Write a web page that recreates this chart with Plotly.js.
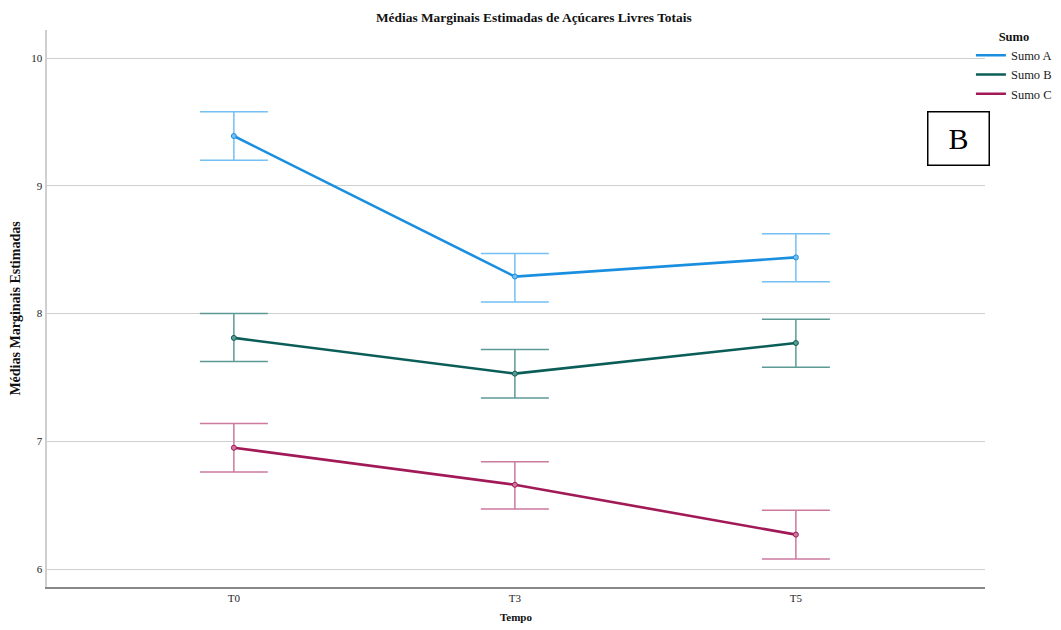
<!DOCTYPE html>
<html>
<head>
<meta charset="utf-8">
<script src="https://cdn.plot.ly/plotly-3.0.1.min.js"></script>
<style>html,body{margin:0;padding:0;background:#fff;}#chart{width:1061px;height:630px;}</style>
</head>
<body>
<div id="chart"></div>
<script>
const categories = ["T0", "T3", "T5"];
const seriesNames = ["Sumo A", "Sumo B", "Sumo C"];
const sumoA = [9.39, 8.29, 8.44];
const sumoAUpper = [9.58, 8.47, 8.625];
const sumoALower = [9.20, 8.09, 8.25];
const sumoB = [7.81, 7.53, 7.77];
const sumoBUpper = [8.00, 7.72, 7.955];
const sumoBLower = [7.625, 7.34, 7.58];
const sumoC = [6.95, 6.66, 6.27];
const sumoCUpper = [7.14, 6.84, 6.46];
const sumoCLower = [6.76, 6.47, 6.08];

const lineColors = ["#1a8fe0", "#0b5e58", "#a11a57"];
const errColors = ["#74c0f2", "#5e9a95", "#cc7a9e"];
const series = [
  [sumoA, sumoAUpper, sumoALower],
  [sumoB, sumoBUpper, sumoBLower],
  [sumoC, sumoCUpper, sumoCLower]
];
const xIdx = categories.map((c, i) => i);
const traces = [];
series.forEach((s, k) => {
  const [m, up, lo] = s;
  traces.push({
    x: xIdx, y: m, type: 'scatter', mode: 'lines', name: seriesNames[k],
    line: {color: lineColors[k], width: 2.6},
    error_y: {type: 'data', symmetric: false,
      array: up.map((u, i) => u - m[i]),
      arrayminus: lo.map((l, i) => m[i] - l),
      color: errColors[k], thickness: 1.5, width: 34},
    hoverinfo: 'skip'
  });
  traces.push({
    x: xIdx, y: m, type: 'scatter', mode: 'markers', showlegend: false,
    marker: {symbol: 'circle', size: 5, color: errColors[k], line: {color: lineColors[k], width: 1}},
    hoverinfo: 'skip'
  });
});

const serif = "'Liberation Serif', 'DejaVu Serif', serif";
const layout = {
  width: 1061, height: 630,
  margin: {l: 47, r: 76, t: 30, b: 43, autoexpand: false},
  paper_bgcolor: '#fff', plot_bgcolor: '#fff',
  font: {family: serif, size: 12, color: '#222'},
  title: {text: '<b>Médias Marginais Estimadas de Açúcares Livres Totais</b>',
    font: {family: serif, size: 13.4, color: '#111'}, xref: 'paper', x: 0.519, xanchor: 'center', y: 0.972, yanchor: 'middle'},
  xaxis: {
    range: [-0.665, 2.673], tickvals: xIdx, ticktext: categories,
    showgrid: false, zeroline: false, showline: true, linecolor: '#888', linewidth: 1.5,
    ticks: '', tickfont: {family: serif, size: 11, color: '#222'},
    title: {text: '<b>Tempo</b>', font: {family: serif, size: 11, color: '#111'}, standoff: 10}
  },
  yaxis: {
    range: [5.86, 10.22], tickvals: [6, 7, 8, 9, 10],
    showgrid: true, gridcolor: '#cfcfcf', gridwidth: 1, zeroline: false,
    showline: true, linecolor: '#cfcfcf', linewidth: 2.5,
    ticks: '', tickfont: {family: serif, size: 11, color: '#222'},
    title: {text: '<b>Médias Marginais Estimadas</b>', font: {family: serif, size: 14, color: '#111', weight: 'bold'}, standoff: 8}
  },
  showlegend: true,
  legend: {
    x: 0.985, xanchor: 'left', y: 1.01, yanchor: 'top',
    bgcolor: 'rgba(0,0,0,0)', borderwidth: 0,
    font: {family: serif, size: 12.5, color: '#222'},
    title: {text: '<b>Sumo</b>', side: 'top center', font: {family: serif, size: 12.5, color: '#111'}},
    tracegroupgap: 0, itemwidth: 30
  },
  annotations: [{
    xref: 'paper', yref: 'paper', x: 0.972, y: 0.806, xanchor: 'center', yanchor: 'middle',
    text: 'B', showarrow: false, font: {family: serif, size: 30, color: '#000'},
    bordercolor: '#000', borderwidth: 1.5, borderpad: 8, bgcolor: '#fff', width: 44, height: 36
  }]
};
Plotly.newPlot('chart', traces, layout, {displayModeBar: false, staticPlot: true});
</script>
</body>
</html>
